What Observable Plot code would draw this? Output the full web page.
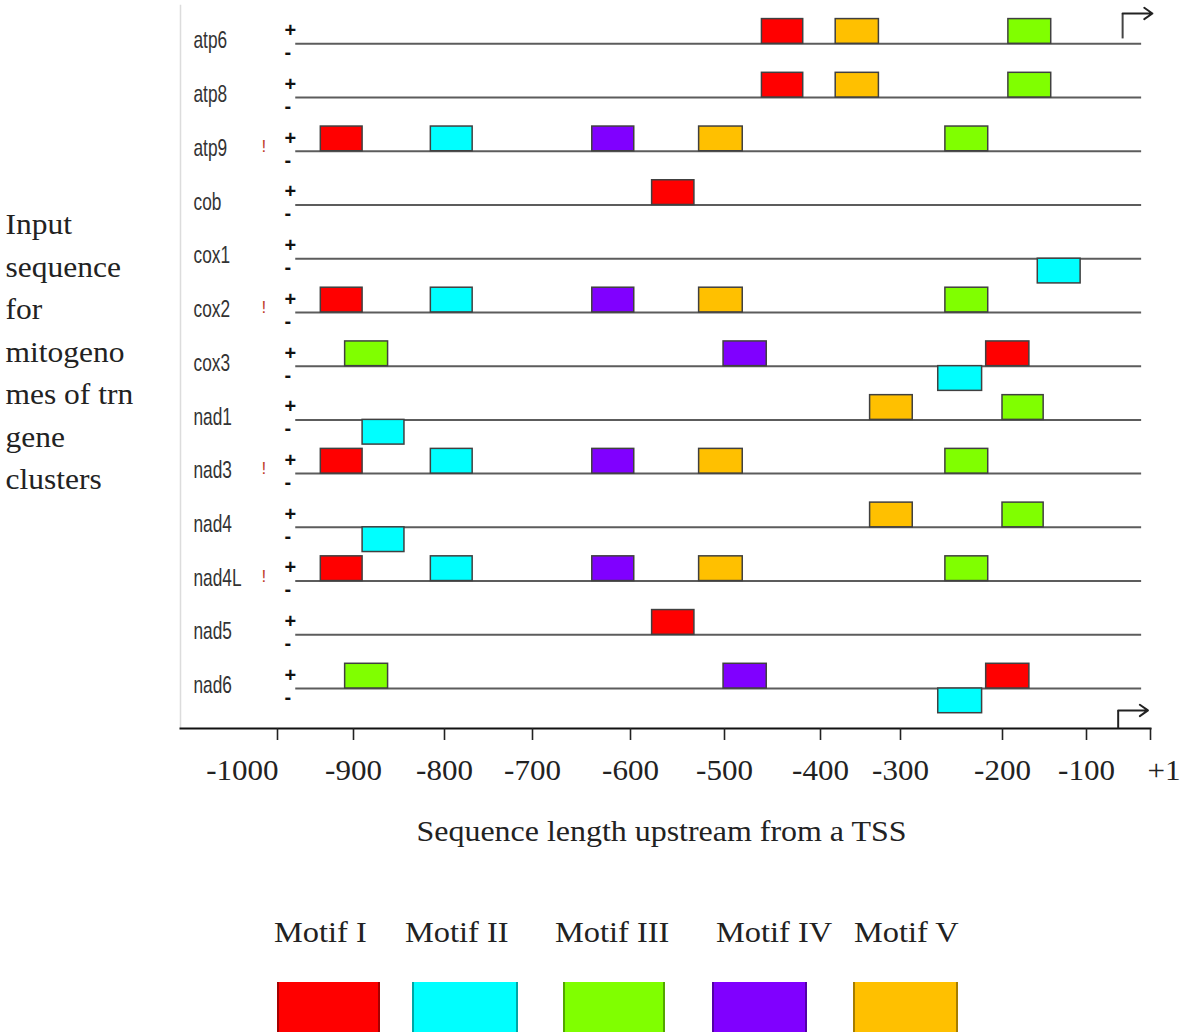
<!DOCTYPE html>
<html>
<head>
<meta charset="utf-8">
<script src="https://cdn.jsdelivr.net/npm/d3@7"></script>
<script src="https://cdn.jsdelivr.net/npm/@observablehq/plot@0.6"></script>
<style>
  body { margin: 0; background: #fff; }
  #wrap { width: 1181px; }
  #legend { position: relative; width: 1181px; height: 165px; font-family: "Liberation Serif", "Times New Roman", serif; }
  .lab { position: absolute; top: 44px; font-size: 30px; line-height: 36px; color: #222; white-space: nowrap;
         transform: scaleX(1.08); transform-origin: left center; }
  .sw { position: absolute; top: 112px; height: 50px; box-sizing: border-box;
        border-left: 2px solid rgba(0,0,0,0.35); border-right: 2px solid rgba(0,0,0,0.35); }
</style>
</head>
<body>
<div id="wrap">
  <div id="chart"></div>
  <div id="legend"></div>
</div>
<script>
// ---------------- data ----------------
const genes = ["atp6","atp8","atp9","cob","cox1","cox2","cox3","nad1","nad3","nad4","nad4L","nad5","nad6"];
const flaggedGenes = ["atp9","cox2","nad3","nad4L"];           // rows marked with "!"
const motifNames  = ["Motif I","Motif II","Motif III","Motif IV","Motif V"];
const motifColors = ["#ff0000","#00ffff","#80ff00","#8000ff","#ffc000"];

// x axis ticks (bp upstream of TSS) and their labels
const xTicks      = [-1000,-900,-800,-700,-600,-500,-400,-300,-200,-100,1];
const xTickLabels = ["-1000","-900","-800","-700","-600","-500","-400","-300","-200","-100","+1"];

// sequence extent and TSS (bp)
const seqStart = -976, seqEnd = -13;
const tssTop = -43, tssAxis = -50;

// motif sites
const siteGene = [
  "atp6","atp6","atp6",
  "atp8","atp8","atp8",
  "atp9","atp9","atp9","atp9","atp9",
  "cob",
  "cox1",
  "cox2","cox2","cox2","cox2","cox2",
  "cox3","cox3","cox3","cox3",
  "nad1","nad1","nad1",
  "nad3","nad3","nad3","nad3","nad3",
  "nad4","nad4","nad4",
  "nad4L","nad4L","nad4L","nad4L","nad4L",
  "nad5",
  "nad6","nad6","nad6","nad6"
];
const siteMotif = [
  "Motif I","Motif V","Motif III",
  "Motif I","Motif V","Motif III",
  "Motif I","Motif II","Motif IV","Motif V","Motif III",
  "Motif I",
  "Motif II",
  "Motif I","Motif II","Motif IV","Motif V","Motif III",
  "Motif III","Motif IV","Motif I","Motif II",
  "Motif V","Motif III","Motif II",
  "Motif I","Motif II","Motif IV","Motif V","Motif III",
  "Motif V","Motif III","Motif II",
  "Motif I","Motif II","Motif IV","Motif V","Motif III",
  "Motif I",
  "Motif III","Motif IV","Motif I","Motif II"
];
const siteStrand = [
  "+","+","+",
  "+","+","+",
  "+","+","+","+","+",
  "+",
  "-",
  "+","+","+","+","+",
  "+","+","+","-",
  "+","+","-",
  "+","+","+","+","+",
  "+","+","-",
  "+","+","+","+","+",
  "+",
  "+","+","+","-"
];
const siteStart = [
  -461,-381,-193,
  -461,-381,-193,
  -943,-815,-639,-527,-256,
  -577,
  -158,
  -943,-815,-639,-527,-256,
  -911,-501,-216,-263,
  -338,-200,-890,
  -943,-815,-639,-527,-256,
  -338,-200,-890,
  -943,-815,-639,-527,-256,
  -577,
  -911,-501,-216,-263
];
const siteEnd = [
  -418,-327,-142,
  -418,-327,-142,
  -890,-768,-596,-481,-214,
  -532,
  -107,
  -890,-768,-596,-481,-214,
  -862,-456,-168,-220,
  -288,-151,-844,
  -890,-768,-596,-481,-214,
  -288,-151,-844,
  -890,-768,-596,-481,-214,
  -532,
  -862,-456,-168,-220
];

const leftTitle = "Input\nsequence\nfor\nmitogeno\nmes of trn\ngene\nclusters";
const xTitle = "Sequence length upstream from a TSS";

// ---------------- layout (not data) ----------------
const xTickPx = [277,353,444,532,630,724,820,900,1002,1086,1150]; // irregular hand-drawn axis
const boxH = 0.46;      // motif box height in row units
const arrowLen = 47;    // TSS arrow length in bp
const serif = "'Liberation Serif', 'Times New Roman', serif";

const sites = siteGene.map((g, i) => ({
  gene: g, row: genes.indexOf(g), motif: siteMotif[i], strand: siteStrand[i],
  start: siteStart[i], end: siteEnd[i]
}));
const rows = genes.map((g, i) => ({gene: g, row: i}));

const chart = Plot.plot({
  width: 1181,
  height: 870,
  marginTop: 5,
  marginBottom: 142,
  marginLeft: 180,
  marginRight: 31,
  style: {fontFamily: "'Liberation Sans', Arial, sans-serif", background: "#fff", color: "#222"},
  x: {type: "linear", domain: xTicks, range: xTickPx, axis: null},
  y: {type: "linear", domain: [0, genes.length - 1], range: [43.3, 688], axis: null},
  color: {domain: motifNames, range: motifColors},
  marks: [
    Plot.frame({anchor: "left", stroke: "#dcdcdc", strokeWidth: 1.5}),
    Plot.frame({anchor: "bottom", stroke: "#111", strokeWidth: 2}),
    Plot.axisX({ticks: xTicks, tickSize: 12, tickFormat: () => "", stroke: "#222", strokeWidth: 1.6, label: null}),
    // tick labels
    Plot.text(xTicks.slice(0, 1), {x: d => d, text: d => xTickLabels[xTicks.indexOf(d)], frameAnchor: "bottom",
      dy: 51, dx: 1, textAnchor: "end", fontSize: 29, fontFamily: serif, fill: "#222"}),
    Plot.text(xTicks.slice(1, -1), {x: d => d, text: d => xTickLabels[xTicks.indexOf(d)], frameAnchor: "bottom",
      dy: 51, textAnchor: "middle", fontSize: 29, fontFamily: serif, fill: "#222"}),
    Plot.text(xTicks.slice(-1), {x: d => d, text: d => xTickLabels[xTicks.indexOf(d)], frameAnchor: "bottom",
      dy: 51, dx: -3, textAnchor: "start", fontSize: 29, fontFamily: serif, fill: "#222"}),
    // axis title
    Plot.text([xTitle], {text: d => d, frameAnchor: "bottom", dy: 112, dx: -4, fontSize: 30, fontFamily: serif, fill: "#222"}),
    // left title
    Plot.text([leftTitle], {text: d => d, frameAnchor: "left", dx: -175, dy: -19, textAnchor: "start",
      lineHeight: 1.417, fontSize: 30, fontFamily: serif, fill: "#222"}),
    // sequence lines
    Plot.ruleY(rows, {y: "row", x1: seqStart, x2: seqEnd, stroke: "#5c5c5c", strokeWidth: 2}),
    // gene labels
    Plot.text(rows, {y: "row", text: "gene", frameAnchor: "left", dx: 13, dy: -3, textAnchor: "start",
      fontSize: 24, fill: "#333"}),
    // strand markers
    Plot.text(rows, {y: "row", text: () => "+", frameAnchor: "left", dx: 104, dy: -13, fontSize: 20,
      fontWeight: "bold", fill: "#111"}),
    Plot.text(rows, {y: "row", text: () => "-", frameAnchor: "left", dx: 104, dy: 9, fontSize: 20,
      fontWeight: "bold", fill: "#111"}),
    // "!" flags
    Plot.text(flaggedGenes, {y: d => genes.indexOf(d), text: () => "!", frameAnchor: "left", dx: 81, dy: -5,
      fontSize: 17, fill: "#c0402c"}),
    // motif boxes
    Plot.rect(sites, {
      x1: "start", x2: "end",
      y1: d => d.strand === "+" ? d.row - boxH : d.row,
      y2: d => d.strand === "+" ? d.row : d.row + boxH,
      fill: "motif", stroke: "#404040", strokeWidth: 1.5
    }),
    // TSS arrows
    Plot.link([tssTop], {x1: d => d, x2: d => d, y1: -0.1, y2: -0.564, stroke: "#444", strokeWidth: 2}),
    Plot.arrow([tssTop], {x1: d => d, x2: d => d + arrowLen, y1: -0.564, y2: -0.564, stroke: "#222",
      strokeWidth: 2, headLength: 17, headAngle: 70}),
    Plot.link([tssAxis], {x1: d => d, x2: d => d, y1: 12.744, y2: 12.408, stroke: "#222", strokeWidth: 2}),
    Plot.arrow([tssAxis], {x1: d => d, x2: d => d + arrowLen, y1: 12.408, y2: 12.408, stroke: "#222",
      strokeWidth: 2, headLength: 17, headAngle: 70})
  ]
});
document.getElementById("chart").appendChild(chart);

// horizontal glyph scaling to mimic the reference's condensed / widened lettering
function squash(nodes, sx) {
  nodes.forEach(node => {
    const t = node.getAttribute("transform");
    if (t) {
      node.setAttribute("transform", t + ` scale(${sx},1)`);
    } else {
      const x = +node.getAttribute("x") || 0, y = +node.getAttribute("y") || 0;
      node.removeAttribute("x"); node.removeAttribute("y");
      node.setAttribute("transform", `translate(${x},${y}) scale(${sx},1)`);
    }
  });
}
const allText = Array.from(chart.querySelectorAll("text"));
squash(allText.filter(n => genes.includes(n.textContent)), 0.72);
squash(allText.filter(n => xTickLabels.includes(n.textContent)), 1.07);
squash(allText.filter(n => n.textContent === xTitle), 1.065);
squash(allText.filter(n => n.textContent === leftTitle.replace(/\n/g, "")), 1.05);

// ---------------- legend (HTML below the SVG) ----------------
const legendLabelLeft  = [274, 405, 555, 716, 854];
const legendSwatchLeft = [277, 412, 563, 712, 853];
const legendSwatchW    = [103, 106, 102, 95, 105];
const legend = document.getElementById("legend");
motifNames.forEach((name, i) => {
  const lab = document.createElement("div");
  lab.className = "lab";
  lab.style.left = legendLabelLeft[i] + "px";
  lab.textContent = name;
  legend.appendChild(lab);
  const sw = document.createElement("div");
  sw.className = "sw";
  sw.style.left = legendSwatchLeft[i] + "px";
  sw.style.width = legendSwatchW[i] + "px";
  sw.style.background = motifColors[i];
  legend.appendChild(sw);
});
</script>
</body>
</html>
